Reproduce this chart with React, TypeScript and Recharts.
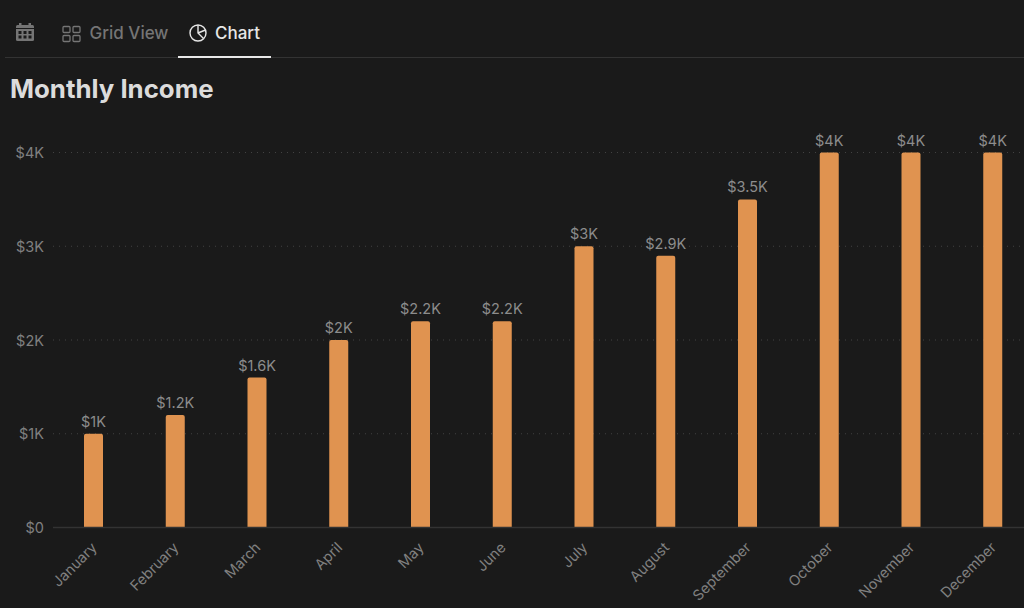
import React from 'react';
import { BarChart, Bar, XAxis, YAxis, CartesianGrid, LabelList } from 'recharts';

const months = ['January', 'February', 'March', 'April', 'May', 'June', 'July', 'August', 'September', 'October', 'November', 'December'];
const income = [1000, 1200, 1600, 2000, 2200, 2200, 3000, 2900, 3500, 4000, 4000, 4000];
const yTicks = [0, 1000, 2000, 3000, 4000];

const FONT = 'Inter, "Noto Sans", sans-serif';
const chartData = months.map((month, i) => ({ month, income: income[i] }));

const money = (v: number) => (v === 0 ? '$0' : `$${v / 1000}K`);

const MonthTick = ({ x, y, payload }: any) => (
  <text
    x={x}
    y={y}
    dx={4}
    dy={13}
    transform={`rotate(-45 ${x + 4} ${y + 13})`}
    textAnchor="end"
    fontSize={14.5}
    fontFamily={FONT}
    fill="#808080"
  >
    {payload.value}
  </text>
);

const ValueTick = ({ x, y, payload }: any) => (
  <text x={x} y={y} dy={5.5} textAnchor="end" fontSize={14.5} fontFamily={FONT} fill="#808080">
    {money(payload.value)}
  </text>
);

const CalendarIcon = () => (
  <svg width="20" height="20" viewBox="0 0 20 20" style={{ position: 'absolute', left: 15, top: 22 }}>
    <rect x="1" y="3" width="18" height="16" rx="1.5" fill="#757575" />
    <rect x="4" y="1" width="2.5" height="4" fill="#757575" />
    <rect x="13.5" y="1" width="2.5" height="4" fill="#757575" />
    <rect x="1" y="6" width="18" height="1" fill="#1a1a1a" />
    {[3.5, 8.5, 13.5].map((cx) =>
      [9, 13.5].map((cy) => <rect key={`${cx}-${cy}`} x={cx} y={cy} width="3" height="3" fill="#1a1a1a" />)
    )}
  </svg>
);

const GridIcon = () => (
  <svg width="20" height="18" viewBox="0 0 20 18" fill="none" stroke="#757575" strokeWidth="1.3" style={{ position: 'absolute', left: 62, top: 24.5 }}>
    <rect x="1" y="1.5" width="7" height="6" rx="1" />
    <rect x="11" y="1.5" width="7" height="6" rx="1" />
    <rect x="1" y="10.5" width="7" height="6" rx="1" />
    <rect x="11" y="10.5" width="7" height="6" rx="1" />
  </svg>
);

const PieIcon = () => (
  <svg width="20" height="20" viewBox="0 0 20 20" fill="none" stroke="#e6e6e6" strokeWidth="1.4" style={{ position: 'absolute', left: 187.5, top: 23 }}>
    <circle cx="10" cy="10" r="8" />
    <path d="M10 2 V10 L15.5 15.5 M10 10 L17.5 7" />
  </svg>
);

export default function App() {
  return (
    <div style={{ position: 'fixed', left: 0, top: 0, width: 1024, height: 608, overflow: 'hidden', background: '#1a1a1a', fontFamily: FONT }}>
      <CalendarIcon />
      <GridIcon />
      <div style={{ position: 'absolute', left: 89.5, top: 23, fontSize: 17, lineHeight: '20px', fontWeight: 500, color: '#757575' }}>Grid View</div>
      <PieIcon />
      <div style={{ position: 'absolute', left: 215, top: 23, fontSize: 17, lineHeight: '20px', fontWeight: 500, color: '#e6e6e6' }}>Chart</div>
      <div style={{ position: 'absolute', left: 5, right: 0, top: 57, height: 1, background: '#333333' }} />
      <div style={{ position: 'absolute', left: 178, width: 93, top: 55.5, height: 2.5, background: '#e8e8e8' }} />
      <div style={{ position: 'absolute', left: 10, top: 72, fontSize: 25.8, lineHeight: '34px', fontWeight: 700, color: '#dcdcdc' }}>Monthly Income</div>

      <BarChart
        width={1040}
        height={608}
        data={chartData}
        margin={{ top: 152.5, right: 6, bottom: 0, left: 0 }}
        style={{ position: 'absolute', left: 0, top: 0 }}
      >
        <CartesianGrid vertical={false} stroke="#424242" strokeDasharray="1 5" />
        <XAxis
          dataKey="month"
          interval={0}
          height={80.5}
          axisLine={{ stroke: '#333333', strokeWidth: 1.5 }}
          tickLine={false}
          tick={<MonthTick />}
        />
        <YAxis
          width={53}
          domain={[0, 4000]}
          ticks={yTicks}
          axisLine={false}
          tickLine={false}
          tick={<ValueTick />}
          tickMargin={3}
        />
        <Bar dataKey="income" barSize={19} fill="#e09350" radius={[2, 2, 0, 0]} isAnimationActive={false}>
          <LabelList
            dataKey="income"
            position="top"
            offset={7}
            formatter={money}
            style={{ fontSize: 14.5, fontFamily: FONT, fill: '#8c8c8c' }}
          />
        </Bar>
      </BarChart>
    </div>
  );
}
